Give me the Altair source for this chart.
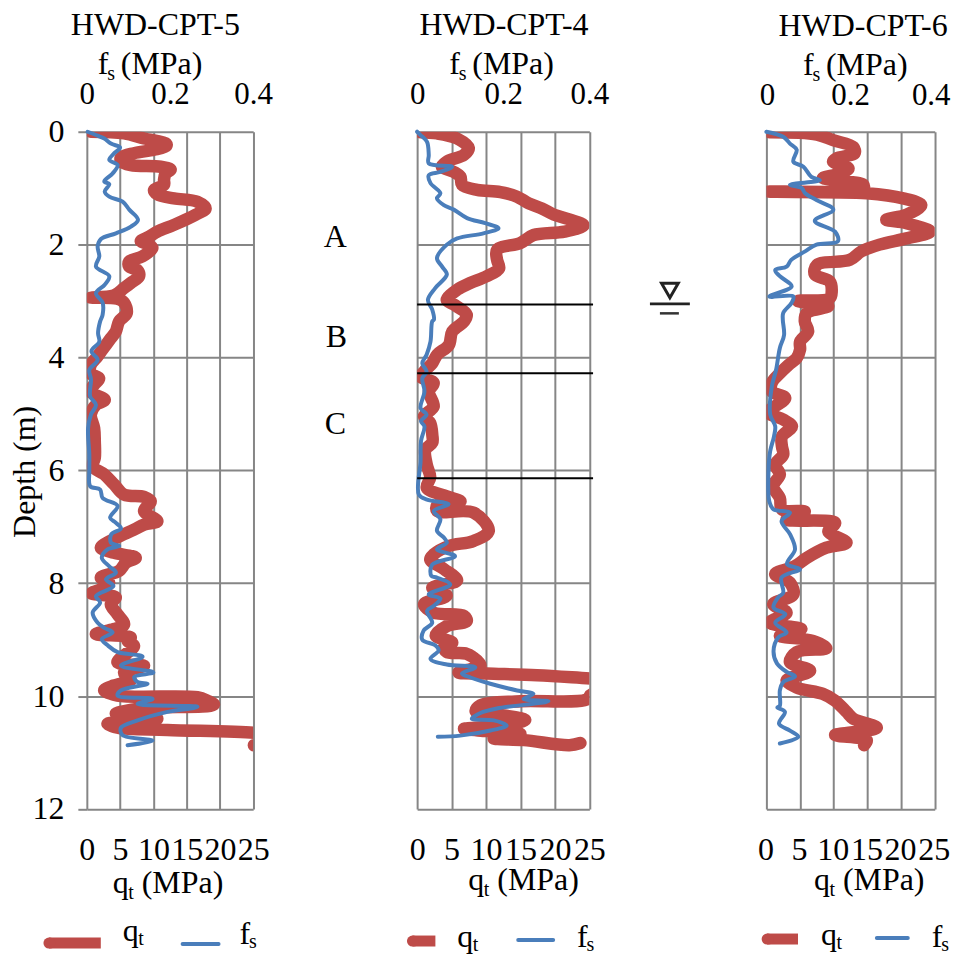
import altair as alt
import pandas as pd

GRID = "#868686"
RED = "#BE4B48"
BLUE = "#4A7EBB"
FONT = "Liberation Serif"

# ---------- HWD-CPT-5 ----------
d5_q = [0,.03,.12,.21,.25,.32,.38,.46,.53,.59,.62,.67,.74,.85,.94,1.03,1.11,1.18,1.24,1.36,1.47,1.65,1.77,1.86,1.94,1.99,2.06,2.21,2.30,2.39,2.45,2.56,2.68,2.77,2.90,2.94,2.96,3.03,3.21,
        3.36,3.54,3.66,3.86,3.98,4.13,4.28,4.37,4.48,4.6,4.75,4.84,5.01,5.25,5.49,5.78,5.93,6.07,6.25,6.43,6.47,6.55,6.72,6.9,6.96,7.05,7.2,7.37,7.46,7.55,7.64,7.78,7.9,7.99,8.08,8.18,8.25,8.37,8.55,8.73,8.81,8.9,8.96,
        9.02,9.11,9.4,9.46,9.58,9.72,9.81,9.9,9.99,10.02,10.08,10.15,10.22,10.31,10.4,10.49,10.56,10.6,10.65,10.7,10.85,10.87]
q5 = [.6,5.6,8.6,11.9,11.95,10.1,7.1,5.1,5.2,6.6,11.1,12.6,11.85,11.6,11.6,10.1,10.6,13.1,16.6,17.85,16.35,13.1,10.6,9.35,8.1,9.1,9.85,8.35,6.35,6.35,7.6,7.85,6.6,5.6,4.1,.6,4.6,5.6,6.0,
      4.85,4.35,3.6,2.35,1.6,.6,.5,1.85,1.1,.5,2.7,1.35,.6,1.1,1.2,1.2,.85,2.6,4.1,5.6,8.6,9.6,8.6,10.6,8.6,7.1,4.35,2.1,4.1,7.35,5.85,4.85,2.1,3.35,2.6,.7,4.35,3.6,4.6,5.6,4.1,1.35,6.6,
      6.1,7.1,4.6,8.6,5.6,6.6,4.1,2.6,4.6,16.6,18.1,19.1,8.1,4.35,10.6,3.1,4.6,12.1,25.1,28,26,25.1]
d5_f = [0,.07,.12,.21,.28,.38,.5,.59,.74,.88,.93,1.06,1.15,1.24,1.38,1.56,1.68,1.8,1.9,2.03,2.21,2.39,2.56,2.71,2.86,3.03,3.24,
        3.36,3.57,3.72,3.89,4.04,4.22,4.39,4.69,4.84,5.01,5.25,5.72,6.02,6.28,6.34,6.49,6.63,6.84,6.93,7.03,7.13,7.28,7.34,7.4,7.55,7.7,7.81,7.93,8.05,8.23,8.34,8.52,8.7,8.79,8.87,8.99,
        9.1,9.22,9.3,9.46,9.58,9.66,9.75,9.78,9.9,9.99,10.05,10.14,10.19,10.28,10.43,10.56,10.69,10.79,10.87]
f5 = [.002,.026,.042,.058,.08,.066,.054,.074,.062,.042,.054,.043,.054,.086,.102,.123,.106,.07,.034,.026,.03,.022,.054,.043,.022,.038,.038,
      .032,.027,.03,.011,.026,.006,.01,.008,.022,.01,.003,.006,.006,.008,.032,.038,.074,.056,.07,.082,.059,.058,.078,.05,.036,.054,.07,.046,.064,.022,.032,.014,.026,.042,.062,.036,
      .05,.074,.134,.082,.16,.114,.122,.146,.082,.074,.158,.122,.266,.194,.122,.082,.086,.158,.098]

# ---------- HWD-CPT-4 ----------
d4_q = [.01,.03,.12,.29,.41,.53,.62,.71,.8,.94,1.03,1.07,1.15,1.27,1.36,1.47,1.56,1.66,1.77,1.83,1.97,2.09,2.27,2.42,2.56,2.68,2.8,2.98,3.06,3.24,
        3.36,3.54,3.78,3.95,4.1,4.25,4.34,4.45,4.6,4.87,5.04,5.16,5.37,5.51,5.63,5.9,6.12,6.31,6.46,6.55,6.62,6.72,6.75,7.07,7.25,7.34,7.49,7.58,7.75,7.95,8.08,8.22,8.37,8.52,8.58,8.67,8.76,8.93,
        9.05,9.13,9.22,9.25,9.37,9.46,9.58,9.6,9.63,9.69,9.8,9.92,9.96,10.06,10.09,10.16,10.27,10.34,10.42,10.52,10.58,10.62,10.67,10.75,10.78,10.87,10.83]
q4 = [.5,2.9,5.8,7.5,6.8,4.3,3.6,5.3,6.3,6.5,8.7,12.1,14.5,16.2,18.1,19.9,22.3,24.15,21.4,16.9,15,11.6,11.6,11.9,10.1,7.7,5.8,4.3,5.3,7.2,
      6.8,5.1,4.6,2.9,2.2,1,.5,2.4,1.7,2.4,1,1.9,2.2,2.2,1.2,1.4,1.9,1.4,4.3,6.3,2.9,2.9,8.2,10.4,8.2,4.6,2.4,1.9,3.9,5.8,2.2,4.3,1,2.4,6.8,7.2,4.3,2.7,
      5.1,3.9,4.3,7.2,8.7,9.2,6,10.1,17.4,25.4,40,40,25.4,24.6,15,9.2,8.5,12.6,15.7,12.1,6.8,10.1,15,11.1,15.5,22.1,23.7]
d4_f = [0,.06,.18,.41,.56,.62,.71,.77,.91,1.09,1.18,1.3,1.38,1.53,1.62,1.71,1.8,1.89,2,2.24,2.39,2.53,2.77,2.98,3.15,3.33,
        3.36,3.72,3.95,4.1,4.25,4.37,4.6,4.9,5.01,5.13,5.22,5.48,5.84,6.43,6.52,6.6,6.72,6.87,7.07,7.19,7.28,7.4,7.52,7.67,7.87,7.9,8.02,8.2,8.27,8.4,8.49,8.7,8.84,9,
        9.1,9.19,9.34,9.44,9.49,9.6,9.67,9.78,9.9,9.96,10.05,10.09,10.22,10.3,10.4,10.43,10.52,10.61,10.7,10.72]
f4 = [0,.008,.023,.027,.027,.081,.054,.027,.031,.054,.046,.062,.085,.116,.158,.189,.154,.093,.069,.046,.058,.069,.042,.025,.035,.039,
      .035,.031,.022,.012,.022,.012,.017,.008,.022,.009,.017,.009,.008,.004,.023,.073,.039,.054,.046,.062,.069,.046,.088,.035,.033,.046,.077,.027,.054,.039,.023,.035,.015,.012,
      .042,.05,.031,.069,.135,.104,.124,.17,.232,.27,.247,.305,.185,.147,.127,.178,.208,.17,.1,.048]

# ---------- HWD-CPT-6 ----------
d6_q = [.01,.05,.15,.27,.38,.47,.53,.65,.74,.82,.88,.94,1.01,1.06,1.09,1.18,1.3,1.47,1.56,1.62,1.77,1.89,2,2.12,2.27,2.36,2.53,2.65,2.83,2.95,3,3.09,3.21,
        3.36,3.54,3.72,3.86,4.01,4.13,4.28,4.45,4.6,4.72,4.97,5.1,5.22,5.4,5.57,5.72,5.9,6.07,6.28,6.49,6.69,6.73,6.87,6.93,7.08,7.28,7.37,7.55,7.7,7.84,7.99,8.2,8.37,8.52,8.7,8.81,8.93,9.02,
        9.15,9.22,9.4,9.55,9.72,9.85,9.96,10.08,10.28,10.4,10.56,10.69,10.78,10.87]
q6 = [.5,7.5,9.9,12.9,13.1,10.4,9.9,12.2,10.9,8.4,11.9,14.4,14.4,.3,14.9,20.3,23,20.8,17.8,20.8,24.3,20.8,16.8,14.1,12.4,7.5,7.2,9.4,9.7,9.4,4.7,9.2,6,
      5.7,6.2,5,5,4.5,3.3,2,.8,.8,2.8,.3,2.5,3.8,2.3,2.3,2.5,1.3,2,1,2,2.3,5.7,3,10.2,9.2,11.9,8.9,6,4.2,1.3,3.5,4,1,3,.5,5.2,2,6.9,
      8.9,4.5,3.5,6.5,3,4.5,8.4,10.2,11.9,12.9,16.4,10.2,14.9,14.5]
d6_f = [0,.09,.21,.32,.53,.62,.8,.86,.94,1,1.09,1.21,1.38,1.58,1.77,1.94,2,2.12,2.27,2.39,2.45,2.56,2.74,2.92,2.92,3.03,3.21,3.33,
        3.6,3.83,4.22,4.51,5.01,5.22,5.4,5.66,6.02,6.55,6.69,6.75,6.9,7.13,7.4,7.66,7.75,7.9,8.17,8.25,8.43,8.55,8.7,8.87,8.96,
        9.2,9.42,9.57,9.65,9.75,9.9,10.17,10.2,10.28,10.49,10.61,10.72,10.84]
f6 = [0,.04,.056,.072,.064,.088,.107,.127,.056,.084,.092,.119,.159,.115,.163,.17,.119,.092,.059,.048,.021,.032,.06,.007,.064,.06,.04,.039,
      .042,.032,.023,.013,.009,.021,.018,.009,.005,.007,.017,.056,.036,.056,.068,.049,.08,.036,.04,.028,.017,.045,.021,.048,.028,
      .017,.025,.048,.068,.04,.032,.032,.026,.044,.03,.056,.076,.032]

# ---------- Other values ----------
qt_ticks = [0, 5, 10, 15, 20, 25]
fs_ticks = [0, 0.2, 0.4]
fs_tick_text = ["0", "0.2", "0.4"]
depth_ticks = [0, 2, 4, 6, 8, 10, 12]
layer_bounds = [3.06, 4.28, 6.14]
layer_names = ["A", "B", "C"]
titles = ["HWD-CPT-5", "HWD-CPT-4", "HWD-CPT-6"]

TOP = 130.0
PW = [166.7, 172.6, 168.7]
PL = [86.0, 416.7, 766.3]
H = 678.7
FS = 32
RW = 12.5
BW = 4


def txt(left, s, px, py, size=FS, angle=None):
    kw = {"angle": angle} if angle is not None else {}
    return alt.Chart(pd.DataFrame({"t": [s]})).mark_text(
        font=FONT, fontSize=size, align="left", baseline="alphabetic", color="black", **kw
    ).encode(x=alt.value(px - left), y=alt.value(py - TOP), text="t:N")


def seg(left, x0, x1, y, color, width, cap="butt"):
    return alt.Chart(pd.DataFrame({"t": [0]})).mark_rule(
        color=color, strokeWidth=width, strokeCap=cap
    ).encode(x=alt.value(x0 - left), x2=alt.value(x1 - left), y=alt.value(y - TOP))


def panel(i, dq, q, df, f, fs_x, qt_x, title_x, title_y, fs_y, qt_y, leg, y_labels, fs_labels=True, q_off=0):
    L, W = PL[i], PW[i]
    y_axis = alt.Axis(
        values=depth_ticks, grid=True, gridColor=GRID, gridWidth=2, domain=False,
        labels=y_labels, ticks=y_labels, tickColor=GRID, tickWidth=2, tickSize=9,
        labelFont=FONT, labelFontSize=FS, labelColor="black", labelPadding=14, title=None, format="d",
    )
    yenc = alt.Y("d:Q", scale=alt.Scale(domain=[0, 12], reverse=True, nice=False), axis=y_axis)
    qt = alt.Chart(pd.DataFrame({"d": dq, "q": q})).mark_line(
        color=RED, strokeWidth=RW, strokeCap="round", strokeJoin="round", clip=True,
        interpolate="catmull-rom"
    ).encode(
        x=alt.X("q:Q", sort=None, scale=alt.Scale(domain=[0, 25], nice=False),
                axis=alt.Axis(orient="bottom", values=qt_ticks, grid=True, gridColor=GRID, gridWidth=2,
                              domain=False, ticks=False, labelFont=FONT, labelFontSize=FS, labelColor="black",
                              labelPadding=26, labelOverlap=False, labelBound=False, labelFlush=False, title=None,
                              labelOffset=q_off, format="d")),
        y=yenc, order=alt.Order("i:Q"),
    ).transform_window(i="row_number()")
    fs = alt.Chart(pd.DataFrame({"d": df, "f": f})).mark_line(
        color=BLUE, strokeWidth=BW, strokeCap="round", strokeJoin="round",
        interpolate="catmull-rom"
    ).encode(
        x=alt.X("f:Q", scale=alt.Scale(domain=[0, 0.4], nice=False),
                axis=alt.Axis(orient="top", values=fs_ticks, grid=False, domain=False, ticks=False,
                              labels=fs_labels,
                              labelFont=FONT, labelFontSize=31, labelColor="black", labelPadding=21,
                              labelOverlap=False, labelBound=False, labelFlush=False, title=None,
                              labelExpr="datum.value == 0 ? '0' : format(datum.value, '.1f')")),
        y=alt.Y("d:Q", scale=alt.Scale(domain=[0, 12], reverse=True, nice=False)),
        order=alt.Order("i:Q"),
    ).transform_window(i="row_number()")
    layers = [qt, fs,
              txt(L, titles[i], title_x, title_y),
              txt(L, "f", fs_x, fs_y), txt(L, "s", fs_x + 9.5, fs_y + 6, 20), txt(L, "(MPa)", fs_x + 23, fs_y),
              txt(L, "q", qt_x, qt_y), txt(L, "t", qt_x + 15.5, qt_y + 6, 20), txt(L, "(MPa)", qt_x + 29, qt_y),
              seg(L, leg["r0"] + 5, leg["r1"], leg["ry"], RED, 11),
              seg(L, leg["r0"] + 5, leg["r0"] + 6, leg["ry"], RED, 11, "round"),
              seg(L, leg["b0"], leg["b1"], leg["by"], BLUE, BW, "round"),
              txt(L, "q", leg["qx"], leg["qy"]), txt(L, "t", leg["qx"] + 15.5, leg["qy"] + 4, 20),
              txt(L, "f", leg["fx"], leg["fy"]), txt(L, "s", leg["fx"] + 9.5, leg["fy"] + 4, 20)]
    return layers


# panel 1
p1 = panel(0, d5_q, q5, d5_f, f5, 97, 112, 70, 33, 72, 893,
           dict(r0=43, r1=100, ry=943, b0=182, b1=218, by=944, qx=122, qy=941, fx=239, fy=944), True)
p1 += [txt(86, "Depth (m)", 34, 537, angle=270),
       alt.Chart(pd.DataFrame({"t": [0]})).mark_point(size=1, opacity=0).encode(
           x=alt.value(8 - 86), y=alt.value(8 - TOP))]

# panel 2
p2 = panel(1, d4_q, q4, d4_f, f4, 449, 468, 419, 33, 72, 890,
           dict(r0=407, r1=435, ry=941, b0=518, b1=553, by=940, qx=457, qy=947, fx=577, fy=947), False)
bnd = alt.Chart(pd.DataFrame({"d": layer_bounds})).mark_rule(color="black", strokeWidth=2).encode(
    y=alt.Y("d:Q", scale=alt.Scale(domain=[0, 12], reverse=True, nice=False)),
    x=alt.value(0), x2=alt.value(176.3))
p2 += [bnd,
       txt(416.7, layer_names[0], 323, 246),
       txt(416.7, layer_names[1], 325, 346),
       txt(416.7, layer_names[2], 324, 433),
       alt.Chart(pd.DataFrame({"t": [0]})).mark_point(
           shape="triangle-down", filled=False, stroke="#222222", strokeWidth=3, size=280, opacity=1
       ).encode(x=alt.value(670 - 416.7), y=alt.value(289 - TOP)),
       seg(416.7, 650, 690, 302.5, "#222222", 3),
       seg(416.7, 660, 679, 312, "#333333", 2.5)]

# panel 3: top labels are marks so the last one can stay inside the page
p3 = panel(2, d6_q, q6, d6_f, f6, 803, 814, 778.5, 34, 73, 890,
           dict(r0=762, r1=798, ry=939, b0=877, b1=908, by=938, qx=821, qy=945, fx=932, fy=947), False,
           fs_labels=False, q_off=-1)
for v, s, dx in zip(fs_ticks, fs_tick_text, [1, 0, -3.5]):
    p3.append(
        alt.Chart(pd.DataFrame({"f": [v], "s": [s]})).mark_text(
            font=FONT, fontSize=31, align="center", baseline="alphabetic", color="black", dx=dx
        ).encode(
            x=alt.X("f:Q", scale=alt.Scale(domain=[0, 0.4], nice=False), axis=None),
            y=alt.value(103 - TOP), text="s:N",
        )
    )


def assemble(layers, w):
    return alt.layer(*layers).resolve_scale(x="independent").resolve_axis(x="independent").properties(
        width=w, height=H)


def gap(w):
    return alt.Chart(pd.DataFrame({"t": [0]})).mark_point(opacity=0).encode(
        x=alt.value(0), y=alt.value(0)).properties(width=w, height=H)


chart = alt.hconcat(
    assemble(p1, PW[0]), gap(PL[1] - PL[0] - PW[0]),
    assemble(p2, PW[1]), gap(PL[2] - PL[1] - PW[1]),
    assemble(p3, PW[2]),
    spacing=0,
).properties(padding=0, bounds="flush", background="white").configure_view(stroke=None)

chart.save("out.html", embed_options={"renderer": "svg", "actions": False})
